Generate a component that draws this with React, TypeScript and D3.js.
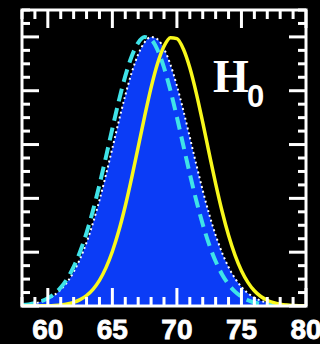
import React from "react";
import * as d3 from "d3";

// H0 grid (km/s/Mpc) on which the three posteriors are sampled
const h0Grid = [
  58, 58.5, 59, 59.5, 60, 60.5, 61, 61.5, 62, 62.5, 63, 63.5, 64, 64.5, 65, 65.5,
  66, 66.5, 67, 67.5, 68, 68.5, 69, 69.5, 70, 70.5, 71, 71.5, 72, 72.5, 73, 73.5,
  74, 74.5, 75, 75.5, 76, 76.5, 77, 77.5, 78, 78.5, 79, 79.5, 80,
];

// Filled posterior (blue, dotted white outline)
const filledPosterior = [
  0.0035, 0.006, 0.01, 0.0164, 0.0261, 0.0404, 0.0608, 0.0889, 0.1266, 0.1752,
  0.2357, 0.3087, 0.393, 0.4868, 0.5863, 0.6869, 0.7827, 0.8674, 0.935, 0.9802,
  0.9994, 0.9911, 0.956, 0.8968, 0.8183, 0.7261, 0.6268, 0.5262, 0.4296, 0.3411,
  0.2634, 0.1979, 0.1446, 0.1027, 0.071, 0.0477, 0.0312, 0.0198, 0.0123, 0.0074,
  0.0043, 0.0025, 0.0014, 0.0008, 0.0004,
];

// Dashed posterior (cyan)
const dashedPosterior = [
  0.0034, 0.0061, 0.0105, 0.0176, 0.0286, 0.0449, 0.0685, 0.1012, 0.1451, 0.2017,
  0.2718, 0.3553, 0.4503, 0.5534, 0.6596, 0.7622, 0.8542, 0.9282, 0.9781, 0.9994,
  0.9902, 0.9514, 0.8863, 0.8007, 0.7015, 0.5959, 0.4909, 0.3921, 0.3037, 0.2281,
  0.1661, 0.1173, 0.0803, 0.0533, 0.0344, 0.0215, 0.013, 0.0076, 0.0043, 0.0024,
  0.0013, 0.0007, 0.0003, 0.0002, 0.0001,
];

// Solid posterior (yellow)
const solidPosterior = [
  0.00005, 0.0001, 0.0003, 0.0005, 0.0011, 0.0022, 0.0042, 0.0077, 0.0138, 0.0236,
  0.039, 0.0621, 0.0955, 0.1416, 0.2025, 0.2794, 0.3717, 0.477, 0.5904, 0.7048,
  0.8115, 0.9011, 0.9652, 0.9971, 0.9935, 0.9548, 0.885, 0.7912, 0.6822, 0.5674,
  0.4551, 0.3521, 0.2628, 0.1891, 0.1313, 0.0879, 0.0567, 0.0353, 0.0212, 0.0123,
  0.0069, 0.0037, 0.0019, 0.001, 0.0005,
];

const xTickLabels = [60, 65, 70, 75, 80];

const W = 320;
const H = 344;

export default function App() {
  const x = d3.scaleLinear().domain([58, 80]).range([22, 306]);
  const y = d3.scaleLinear().domain([0, 1.1]).range([306, 10]);

  const pts = (vals: number[]) => h0Grid.map((h, i) => [h, vals[i]] as [number, number]);

  const area = d3
    .area<[number, number]>()
    .x((d) => x(d[0]))
    .y0(y(0))
    .y1((d) => y(d[1]))
    .curve(d3.curveMonotoneX);
  const line = d3
    .line<[number, number]>()
    .x((d) => x(d[0]))
    .y((d) => y(d[1]))
    .curve(d3.curveMonotoneX);

  const [x0, x1] = x.range();
  const [yb, yt] = y.range();

  // Minor ticks every 1 on x, every 0.05 on y; majors every 5 and 0.2
  const xTicks = d3.range(58, 80.01, 1);
  const yTicks = d3.range(0, 1.1001, 0.05);
  const isMajorX = (v: number) => Math.abs(v % 5) < 1e-6;
  const isMajorY = (v: number) => Math.abs(v / 0.2 - Math.round(v / 0.2)) < 1e-6;

  const white = "#ffffff";
  const tickW = 3;

  return (
    <svg
      width={W}
      height={H}
      style={{ position: "fixed", left: 0, top: 0, display: "block", background: "#000" }}
    >
      <rect x={0} y={0} width={W} height={H} fill="#000" />
      <defs>
        <clipPath id="plotClip">
          <rect x={x0} y={yt} width={x1 - x0} height={yb - yt} />
        </clipPath>
      </defs>

      <g clipPath="url(#plotClip)">
        <path d={area(pts(filledPosterior)) || ""} fill="#0b3cf6" />
        <path
          d={line(pts(filledPosterior)) || ""}
          fill="none"
          stroke={white}
          strokeWidth={2}
          strokeDasharray="2,3"
        />
        <path
          d={line(pts(dashedPosterior)) || ""}
          fill="none"
          stroke="#3fe3e8"
          strokeWidth={4}
          strokeDasharray="13,7"
        />
        <path
          d={line(pts(solidPosterior)) || ""}
          fill="none"
          stroke="#f8f81c"
          strokeWidth={3.5}
        />
      </g>

      {/* bottom and top ticks */}
      {xTicks.map((v) => {
        const len = isMajorX(v) ? 18 : 9;
        return (
          <g key={`xt${v}`}>
            <line x1={x(v)} x2={x(v)} y1={yb} y2={yb - len} stroke={white} strokeWidth={tickW} />
            <line x1={x(v)} x2={x(v)} y1={yt} y2={yt + len} stroke={white} strokeWidth={tickW} />
          </g>
        );
      })}

      {/* left and right ticks */}
      {yTicks.map((v) => {
        const len = isMajorY(v) ? 17 : 8;
        return (
          <g key={`yt${v.toFixed(2)}`}>
            <line x1={x0} x2={x0 + len} y1={y(v)} y2={y(v)} stroke={white} strokeWidth={tickW} />
            <line x1={x1} x2={x1 - len} y1={y(v)} y2={y(v)} stroke={white} strokeWidth={tickW} />
          </g>
        );
      })}

      <rect
        x={x0}
        y={yt}
        width={x1 - x0}
        height={yb - yt}
        fill="none"
        stroke={white}
        strokeWidth={3}
      />

      {xTickLabels.map((v) => (
        <text
          key={`xl${v}`}
          x={x(v)}
          y={339}
          textAnchor="middle"
          fill={white}
          stroke={white}
          strokeWidth={0.8}
          fontFamily="'Liberation Sans', Arial, sans-serif"
          fontWeight="bold"
          fontSize={28}
        >
          {v}
        </text>
      ))}

      <text
        x={213}
        y={92}
        fill={white}
        fontFamily="'Liberation Serif', 'Times New Roman', serif"
        fontWeight="bold"
        fontSize={46}
      >
        H
      </text>
      <text
        x={247}
        y={107}
        fill={white}
        fontFamily="'Liberation Sans', Arial, sans-serif"
        fontWeight="bold"
        fontSize={31}
      >
        0
      </text>
    </svg>
  );
}
